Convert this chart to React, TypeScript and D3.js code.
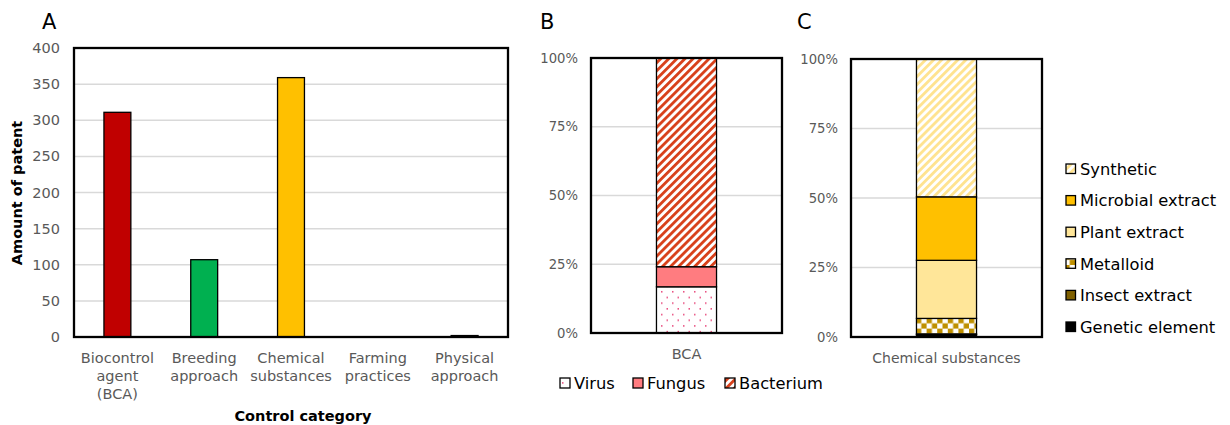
import React from "react";
import * as d3 from "d3";

// ---------- Data ----------
const categoriesA = ["Biocontrol agent (BCA)", "Breeding approach", "Chemical substances", "Farming practices", "Physical approach"];
const categoryLinesA = [["Biocontrol", "agent", "(BCA)"], ["Breeding", "approach"], ["Chemical", "substances"], ["Farming", "practices"], ["Physical", "approach"]];
const valuesA = [311, 107, 359, 0, 2];
const colorsA = ["#C00000", "#00B050", "#FFC000", "#7F7F7F", "#404040"];
const ticksA = [0, 50, 100, 150, 200, 250, 300, 350, 400];

const seriesB = ["Virus", "Fungus", "Bacterium"];
const valuesB = [16.8, 7.3, 75.9];
const fillsB = ["url(#pVirus)", "#FF7C80", "url(#pBact)"];

const seriesC = ["Genetic element", "Insect extract", "Metalloid", "Plant extract", "Microbial extract", "Synthetic"];
const valuesC = [3, 1, 20, 75, 82, 178];
const fillsC = ["#000000", "#7F6000", "url(#pMetal)", "#FFE699", "#FFC000", "url(#pSynth)"];
const legendOrderC = ["Synthetic", "Microbial extract", "Plant extract", "Metalloid", "Insect extract", "Genetic element"];

const pctTicks = [0, 0.25, 0.5, 0.75, 1];

const FONT = "DejaVu Sans, Verdana, sans-serif";
const GRID = "#D9D9D9";
const TICKC = "#595959";

function stackPct(vals: number[]) {
  const total = d3.sum(vals);
  let acc = 0;
  return vals.map((v) => {
    const y0 = acc / total;
    acc += v;
    return { y0, y1: acc / total };
  });
}

export default function App() {
  // Panel A
  const xA = d3.scaleBand<string>().domain(categoriesA).range([74, 508]).paddingInner(0.69).paddingOuter(0.345);
  const yA = d3.scaleLinear().domain([0, 400]).range([337, 48]);

  // Panel B
  const xB = d3.scaleBand<string>().domain(["BCA"]).range([591, 782]).paddingInner(0).paddingOuter(1.09);
  const yB = d3.scaleLinear().domain([0, 1]).range([333, 58]);
  const stB = stackPct(valuesB);

  // Panel C
  const xC = d3.scaleBand<string>().domain(["Chemical substances"]).range([851, 1042]).paddingInner(0).paddingOuter(1.09);
  const yC = d3.scaleLinear().domain([0, 1]).range([337, 59]);
  const stC = stackPct(valuesC);

  const pctFmt = d3.format(".0%");

  return (
    <svg width={1230} height={425} style={{ position: "absolute", left: 0, top: 0, background: "#fff" }} fontFamily={FONT}>
      <defs>
        <pattern id="pBact" width={5.7} height={5.7} patternUnits="userSpaceOnUse" patternTransform="rotate(45)">
          <rect width={5.7} height={5.7} fill="#fff" />
          <rect width={2.8} height={5.7} fill="#D8401A" />
        </pattern>
        <pattern id="pSynth" width={5.7} height={5.7} patternUnits="userSpaceOnUse" patternTransform="rotate(45)">
          <rect width={5.7} height={5.7} fill="#fff" />
          <rect width={2.8} height={5.7} fill="#FFE38F" />
        </pattern>
        <pattern id="pVirus" width={11} height={11.4} patternUnits="userSpaceOnUse" x={660} y={290}>
          <rect width={11} height={11.4} fill="#fff" />
          <rect x={1} y={1} width={1.5} height={1.5} fill="#E8457A" />
          <rect x={6.5} y={6.7} width={1.5} height={1.5} fill="#E8457A" />
        </pattern>
        <pattern id="pMetal" width={10.6} height={10.6} patternUnits="userSpaceOnUse" x={916} y={318}>
          <rect width={10.6} height={10.6} fill="#fff" />
          <rect width={5.3} height={5.3} fill="#BF9000" />
          <rect x={5.3} y={5.3} width={5.3} height={5.3} fill="#BF9000" />
        </pattern>
      </defs>

      {/* Panel letters */}
      <text x={42} y={29} fontSize={21} fill="#000">A</text>
      <text x={540} y={29} fontSize={21} fill="#000">B</text>
      <text x={797} y={29} fontSize={21} fill="#000">C</text>

      {/* ---------- Panel A ---------- */}
      <g>
        {ticksA.map((t) => (
          <g key={t}>
            {t > 0 && t < 400 && <line x1={74} x2={508} y1={yA(t)} y2={yA(t)} stroke={GRID} strokeWidth={1.5} />}
            <text x={60} y={yA(t)} dy="0.35em" textAnchor="end" fontSize={14.5} fill={TICKC}>{t}</text>
          </g>
        ))}
        {categoriesA.map((c, i) =>
          valuesA[i] > 0 ? (
            <rect key={c} x={xA(c)} y={yA(valuesA[i])} width={xA.bandwidth()} height={yA(0) - yA(valuesA[i])}
              fill={colorsA[i]} stroke="#000" strokeWidth={1.3} />
          ) : null
        )}
        <rect x={74} y={48} width={434} height={289} fill="none" stroke="#000" strokeWidth={2.3} />
        {categoriesA.map((c, i) => (
          <text key={c} x={(xA(c) as number) + xA.bandwidth() / 2} y={363} textAnchor="middle" fontSize={14.5} fill={TICKC}>
            {categoryLinesA[i].map((l, j) => (
              <tspan key={j} x={(xA(c) as number) + xA.bandwidth() / 2} dy={j === 0 ? 0 : 18}>{l}</tspan>
            ))}
          </text>
        ))}
        <text x={303} y={421} textAnchor="middle" fontSize={14.5} fontWeight="bold" fill="#000">Control category</text>
        <text transform="translate(22,193) rotate(-90)" textAnchor="middle" fontSize={14.5} fontWeight="bold" fill="#000">Amount of patent</text>
      </g>

      {/* ---------- Panel B ---------- */}
      <g>
        {pctTicks.map((t) => (
          <g key={t}>
            {t > 0 && t < 1 && <line x1={591} x2={782} y1={yB(t)} y2={yB(t)} stroke={GRID} strokeWidth={1.5} />}
            <text x={578} y={yB(t)} dy="0.35em" textAnchor="end" fontSize={13.2} fill={TICKC}>{pctFmt(t)}</text>
          </g>
        ))}
        {seriesB.map((s, i) => (
          <rect key={s} x={xB("BCA")} y={yB(stB[i].y1)} width={xB.bandwidth()} height={yB(stB[i].y0) - yB(stB[i].y1)}
            fill={fillsB[i]} stroke="#000" strokeWidth={1.3} />
        ))}
        <rect x={591} y={58} width={191} height={275} fill="none" stroke="#000" strokeWidth={2.3} />
        <text x={(xB("BCA") as number) + xB.bandwidth() / 2} y={359} textAnchor="middle" fontSize={14.5} fill={TICKC}>BCA</text>
        {seriesB.map((s, i) => {
          const lx = [560, 633, 725][i];
          return (
            <g key={s}>
              <rect x={lx} y={378} width={10} height={10} fill={fillsB[i]} stroke="#000" strokeWidth={1.3} />
              <text x={lx + 14} y={383} dy="0.36em" fontSize={16.3} fill="#000">{s}</text>
            </g>
          );
        })}
      </g>

      {/* ---------- Panel C ---------- */}
      <g>
        {pctTicks.map((t) => (
          <g key={t}>
            {t > 0 && t < 1 && <line x1={851} x2={1042} y1={yC(t)} y2={yC(t)} stroke={GRID} strokeWidth={1.5} />}
            <text x={838} y={yC(t)} dy="0.35em" textAnchor="end" fontSize={13.2} fill={TICKC}>{pctFmt(t)}</text>
          </g>
        ))}
        {seriesC.map((s, i) => (
          <rect key={s} x={xC("Chemical substances")} y={yC(stC[i].y1)} width={xC.bandwidth()} height={yC(stC[i].y0) - yC(stC[i].y1)}
            fill={fillsC[i]} stroke="#000" strokeWidth={1.3} />
        ))}
        <rect x={851} y={59} width={191} height={278} fill="none" stroke="#000" strokeWidth={2.3} />
        <text x={(xC("Chemical substances") as number) + xC.bandwidth() / 2} y={363} textAnchor="middle" fontSize={14} fill={TICKC}>Chemical substances</text>
        {legendOrderC.map((s, k) => {
          const i = seriesC.indexOf(s);
          const cy = 169 + k * 31.6;
          return (
            <g key={s}>
              <rect x={1066} y={cy - 5} width={9.5} height={9.5} fill={fillsC[i]} stroke="#000" strokeWidth={1.3} />
              <text x={1080} y={cy} dy="0.36em" fontSize={16.3} fill="#000">{s}</text>
            </g>
          );
        })}
      </g>
    </svg>
  );
}
